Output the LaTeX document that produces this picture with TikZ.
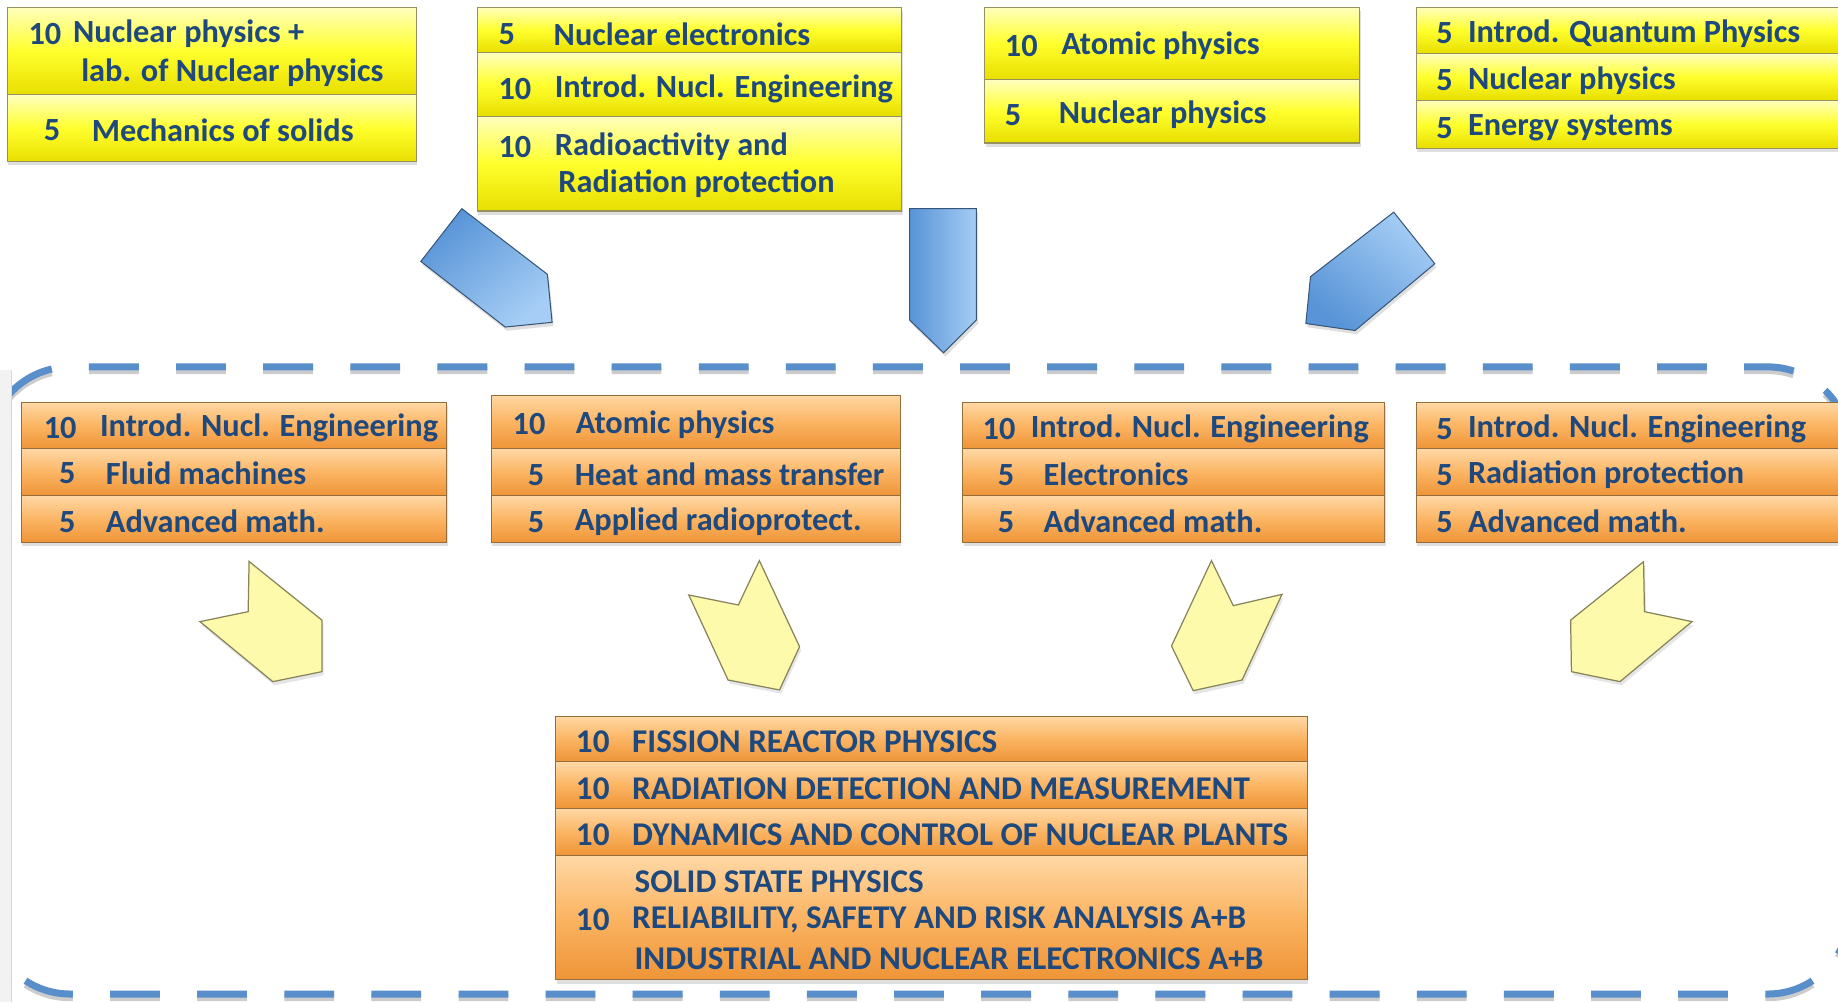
\documentclass[tikz,border=0pt]{standalone}
\usepackage{fontspec}
\setmainfont{Carlito}
\usepackage{xcolor}
\usetikzlibrary{shadows}
\definecolor{tblue}{RGB}{31,73,125}
\definecolor{ytop}{RGB}{255,255,190}
\definecolor{ymid}{RGB}{255,255,45}
\definecolor{ybot}{RGB}{232,222,0}
\definecolor{ybord}{RGB}{150,145,95}
\definecolor{otop}{RGB}{255,216,165}
\definecolor{omid}{RGB}{251,180,98}
\definecolor{obot}{RGB}{238,148,55}
\definecolor{obord}{RGB}{150,110,60}
\definecolor{bdark}{RGB}{88,148,215}
\definecolor{blight}{RGB}{165,205,245}
\definecolor{bedge}{RGB}{55,85,120}
\definecolor{pale}{RGB}{253,250,172}
\definecolor{paleedge}{RGB}{135,132,90}
\definecolor{framecol}{RGB}{88,142,202}

\begin{document}
\begin{tikzpicture}[x=0.02cm,y=-0.02cm,
	yrow/.style={draw=ybord,line width=0.5pt,top color=ytop,bottom color=ybot,middle color=ymid,
		drop shadow={shadow xshift=0.6pt,shadow yshift=-1.8pt,opacity=0.25}},
	orow/.style={draw=obord,line width=0.5pt,top color=otop,bottom color=obot,middle color=omid,
		drop shadow={shadow xshift=0.6pt,shadow yshift=-1.8pt,opacity=0.25}},
	txt/.style={anchor=west,inner sep=0pt,text=tblue,font=\fontsize{15.7}{19}\selectfont\bfseries},
	captxt/.style={txt,font=\fontsize{16.1}{19}\selectfont\bfseries},
	barrow/.style={draw=bedge,line width=0.5pt,left color=bdark,right color=blight,
		drop shadow={shadow xshift=0.8pt,shadow yshift=-1.8pt,opacity=0.25}},
	yarrow/.style={draw=paleedge,line width=0.6pt,fill=pale,
		drop shadow={shadow xshift=0.8pt,shadow yshift=-1.8pt,opacity=0.2}},
	frame/.style={draw=framecol,line width=3.4pt,dash pattern=on 24.2pt off 18.1pt,dash phase=3.3pt,rounded corners=1.4cm}]

	\useasboundingbox (0,0) rectangle (1568,855);

	% dashed frame
	\draw[frame,draw=black,opacity=0.2,yshift=-1.8pt] (-10,400) -- (-10,313) -- (1578,313) -- (1578,848) -- (-10,848) -- (-10,400);
	\draw[frame] (-10,400) -- (-10,313) -- (1578,313) -- (1578,848) -- (-10,848) -- (-10,400);
	\fill[black!5] (0,316) rectangle (10,855);
	\draw[black!15] (10,316) -- (10,855);

	% upper boxes
	\draw[yrow] (6,6) rectangle (355,81);
	\draw[yrow] (6,81) rectangle (355,138);
	\node[txt] (a1n) at (24,29) {10};
	\node[txt] (a1t) at (62,29) {Nuclear physics +};
	\node[txt] (a1u) at (69,62) {lab. of Nuclear physics};
	\node[txt] (a2n) at (37,111) {5};
	\node[txt] (a2t) at (78,111) {Mechanics of solids};

	\draw[yrow] (407,6) rectangle (769,45);
	\draw[yrow] (407,45) rectangle (769,99);
	\draw[yrow] (407,99) rectangle (769,180);
	\node[txt] (b1n) at (425,29) {5};
	\node[txt] (b1t) at (472,29) {Nuclear electronics};
	\node[txt] (b2n) at (425,76) {10};
	\node[txt] (b2t) at (473,76) {Introd. Nucl. Engineering};
	\node[txt] (b3n) at (425,125) {10};
	\node[txt] (b3t) at (473,125) {Radioactivity and};
	\node[txt] (b3u) at (476,157) {Radiation protection};

	\draw[yrow] (840,6) rectangle (1160,68);
	\draw[yrow] (840,68) rectangle (1160,122);
	\node[txt] (c1n) at (857,39) {10};
	\node[txt] (c1t) at (905,39) {Atomic physics};
	\node[txt] (c2n) at (857,98) {5};
	\node[txt] (c2t) at (903,98) {Nuclear physics};

	\draw[yrow] (1208,6) rectangle (1568,45.5);
	\draw[yrow] (1208,45.5) rectangle (1568,85.5);
	\draw[yrow] (1208,85.5) rectangle (1568,126.5);
	\node[txt] (d1n) at (1225,28.5) {5};
	\node[txt] (d1t) at (1252,28.5) {Introd. Quantum Physics};
	\node[txt] (d2n) at (1225,68.5) {5};
	\node[txt] (d2t) at (1252,68.5) {Nuclear physics};
	\node[txt] (d3n) at (1225,109) {5};
	\node[txt] (d3t) at (1252,109) {Energy systems};

	% blue arrows
	\draw[barrow,shading angle=40] (394,178) -- (467,234) -- (471,275) -- (431,279) -- (359,223) -- cycle;
	\draw[barrow] (776,178) -- (833,178) -- (833,273) -- (805,301) -- (776,273) -- cycle;
	\draw[barrow,shading angle=140] (1189,181) -- (1224,225) -- (1156,282) -- (1114,276) -- (1118,236) -- cycle;

	% middle boxes
	\draw[orow] (18,343) rectangle (381,383);
	\draw[orow] (18,383) rectangle (381,423);
	\draw[orow] (18,423) rectangle (381,463);
	\node[txt] (e1n) at (37,365) {10};
	\node[txt] (e1t) at (85,365) {Introd. Nucl. Engineering};
	\node[txt] (e2n) at (50,404) {5};
	\node[txt] (e2t) at (90,404) {Fluid machines};
	\node[txt] (e3n) at (50,445) {5};
	\node[txt] (e3t) at (90,445) {Advanced math.};

	\draw[orow] (419,337) rectangle (768,383);
	\draw[orow] (419,383) rectangle (768,423);
	\draw[orow] (419,423) rectangle (768,463);
	\node[txt] (f1n) at (437,362) {10};
	\node[txt] (f1t) at (491,362) {Atomic physics};
	\node[txt] (f2n) at (450,405) {5};
	\node[txt] (f2t) at (490,405) {Heat and mass transfer};
	\node[txt] (f3n) at (450,445) {5};
	\node[txt] (f3t) at (490,445) {Applied radioprotect.};

	\draw[orow] (821,343) rectangle (1181,383);
	\draw[orow] (821,383) rectangle (1181,423);
	\draw[orow] (821,423) rectangle (1181,463);
	\node[txt] (g1n) at (838,366) {10};
	\node[txt] (g1t) at (879,366) {Introd. Nucl. Engineering};
	\node[txt] (g2n) at (851,405) {5};
	\node[txt] (g2t) at (890,405) {Electronics};
	\node[txt] (g3n) at (851,445) {5};
	\node[txt] (g3t) at (890,445) {Advanced math.};

	\draw[orow] (1208,343) rectangle (1568,383);
	\draw[orow] (1208,383) rectangle (1568,423);
	\draw[orow] (1208,423) rectangle (1568,463);
	\node[txt] (h1n) at (1225,366) {5};
	\node[txt] (h1t) at (1252,366) {Introd. Nucl. Engineering};
	\node[txt] (h2n) at (1225,405) {5};
	\node[txt] (h2t) at (1252,405) {Radiation protection};
	\node[txt] (h3n) at (1225,445) {5};
	\node[txt] (h3t) at (1252,445) {Advanced math.};

	% pale arrows
	\draw[yarrow] (212.5,479) -- (274.6,529) -- (274.6,573) -- (232.7,581.5) -- (170.6,530.3) -- (211.7,521.8) -- cycle;
	\draw[yarrow] (647.8,478.3) -- (682.1,551.7) -- (665,588.6) -- (621.1,580.1) -- (587.6,507.6) -- (629.9,516.1) -- cycle;
	\draw[yarrow] (1033.5,478.3) -- (1052.1,516.7) -- (1093.7,507) -- (1059.6,580.1) -- (1017.9,589.2) -- (999.4,551.1) -- cycle;
	\draw[yarrow] (1402.1,479.2) -- (1402.9,521.8) -- (1443.4,530.3) -- (1382,581.5) -- (1340.6,573) -- (1339.9,529) -- cycle;

	% lower box
	\draw[orow] (474,611) rectangle (1115,650);
	\draw[orow] (474,650) rectangle (1115,690);
	\draw[orow] (474,690) rectangle (1115,730);
	\draw[orow] (474,730) rectangle (1115,836);
	\node[captxt] (k1n) at (491,632.5) {10};
	\node[captxt] (k1t) at (539,632.5) {FISSION REACTOR PHYSICS};
	\node[captxt] (k2n) at (491,672.5) {10};
	\node[captxt] (k2t) at (539,672.5) {RADIATION DETECTION AND MEASUREMENT};
	\node[captxt] (k3n) at (491,712.5) {10};
	\node[captxt] (k3t) at (539,712.5) {DYNAMICS AND CONTROL OF NUCLEAR PLANTS};
	\node[captxt] (k4s) at (541,752) {SOLID STATE PHYSICS};
	\node[captxt] (k4n) at (491,785) {10};
	\node[captxt] (k4t) at (539,785) {RELIABILITY, SAFETY AND RISK ANALYSIS A+B};
	\node[captxt] (k4u) at (541,817.5) {INDUSTRIAL AND NUCLEAR ELECTRONICS A+B};
\end{tikzpicture}
\end{document}
